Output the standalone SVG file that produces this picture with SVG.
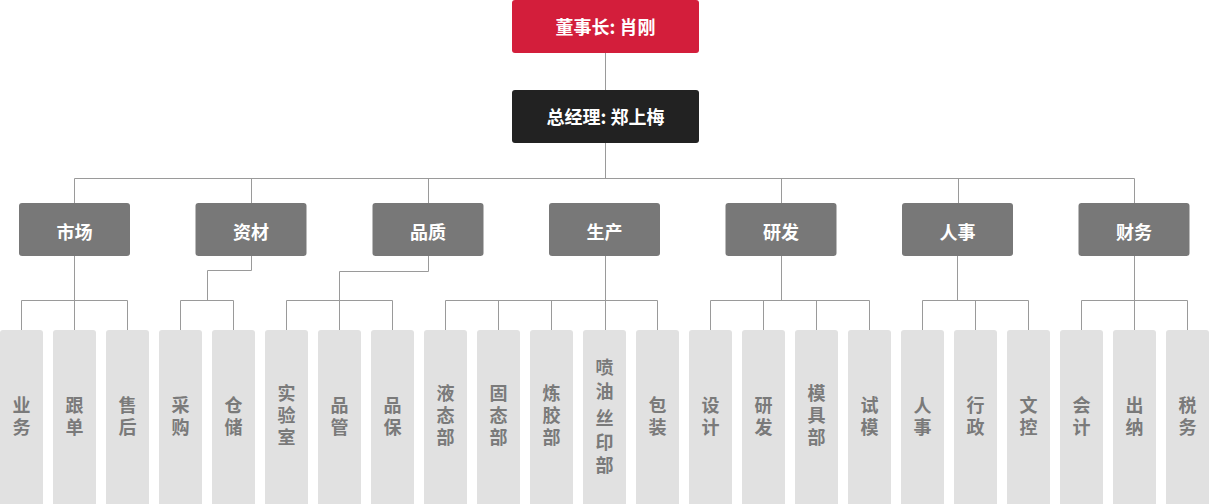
<svg xmlns="http://www.w3.org/2000/svg" width="1209" height="504" viewBox="0 0 1209 504">
<style>
.ln{stroke:#9a9a9a;stroke-width:1;fill:none}
.top{fill:#d31e3b}
.gm{fill:#222222}
.dp{fill:#787878}
.lf{fill:#e1e1e1}
.tw{fill:#ffffff;font-family:"Noto Sans CJK SC","Noto Sans",sans-serif;font-size:18px;font-weight:bold;text-anchor:middle}
.tl{fill:#7a7a7a;font-family:"Noto Sans CJK SC","Noto Sans",sans-serif;font-size:18px;font-weight:bold;text-anchor:middle}
</style>
<rect width="1209" height="504" fill="#ffffff"/>
<g id="connectors">
<path class="ln" d="M605.5 53V90M605.5 143V178.5M74.5 203V178.5H1134.5V203M251.5 178.5V203M428.5 178.5V203M781.5 178.5V203M958.5 178.5V203"/>
<path class="ln" d="M74.5 256V330M21.5 330V300.5H127.5V330"/>
<path class="ln" d="M251.5 256V270.5H207.5V300.5M180.5 330V300.5H233.5V330"/>
<path class="ln" d="M428.5 256V271.5H339.5V330M286.5 330V300.5H392.5V330"/>
<path class="ln" d="M605.5 256V330M445.5 330V300.5H657.5V330M498.5 300.5V330M551.5 300.5V330"/>
<path class="ln" d="M781.5 256V300.5M710.5 330V300.5H869.5V330M763.5 300.5V330M816.5 300.5V330"/>
<path class="ln" d="M957.5 256V300.5M922.5 330V300.5H1028.5V330M975.5 300.5V330"/>
<path class="ln" d="M1134.5 256V330M1081.5 330V300.5H1187.5V330"/>
</g>
<g id="chairman"><rect class="top" x="512" y="0" width="187" height="53" rx="3"/><text class="tw" x="605.5" y="34">董事长: 肖刚</text></g>
<g id="gm"><rect class="gm" x="512" y="90" width="187" height="53" rx="3"/><text class="tw" x="605.5" y="124">总经理: 郑上梅</text></g>
<g id="d-shichang"><rect class="dp" x="19" y="203" width="111" height="53" rx="3"/><text class="tw" x="74.5" y="239">市场</text></g>
<g id="d-zicai"><rect class="dp" x="195.5" y="203" width="111" height="53" rx="3"/><text class="tw" x="251" y="239">资材</text></g>
<g id="d-pinzhi"><rect class="dp" x="372.5" y="203" width="111" height="53" rx="3"/><text class="tw" x="428" y="239">品质</text></g>
<g id="d-shengchan"><rect class="dp" x="549" y="203" width="111" height="53" rx="3"/><text class="tw" x="604.5" y="239">生产</text></g>
<g id="d-yanfa"><rect class="dp" x="725.5" y="203" width="111" height="53" rx="3"/><text class="tw" x="781" y="239">研发</text></g>
<g id="d-renshi"><rect class="dp" x="902" y="203" width="111" height="53" rx="3"/><text class="tw" x="957.5" y="239">人事</text></g>
<g id="d-caiwu"><rect class="dp" x="1078.5" y="203" width="111" height="53" rx="3"/><text class="tw" x="1134" y="239">财务</text></g>
<g id="l0"><rect class="lf" x="0" y="330" width="43" height="180" rx="3"/><text class="tl" x="21.5" y="412">业</text><text class="tl" x="21.5" y="434">务</text></g>
<g id="l1"><rect class="lf" x="53" y="330" width="43" height="180" rx="3"/><text class="tl" x="74.5" y="412">跟</text><text class="tl" x="74.5" y="434">单</text></g>
<g id="l2"><rect class="lf" x="106" y="330" width="43" height="180" rx="3"/><text class="tl" x="127.5" y="412">售</text><text class="tl" x="127.5" y="434">后</text></g>
<g id="l3"><rect class="lf" x="159" y="330" width="43" height="180" rx="3"/><text class="tl" x="180.5" y="412">采</text><text class="tl" x="180.5" y="434">购</text></g>
<g id="l4"><rect class="lf" x="212" y="330" width="43" height="180" rx="3"/><text class="tl" x="233.5" y="412">仓</text><text class="tl" x="233.5" y="434">储</text></g>
<g id="l5"><rect class="lf" x="265" y="330" width="43" height="180" rx="3"/><text class="tl" x="286.5" y="400">实</text><text class="tl" x="286.5" y="422">验</text><text class="tl" x="286.5" y="444">室</text></g>
<g id="l6"><rect class="lf" x="318" y="330" width="43" height="180" rx="3"/><text class="tl" x="339.5" y="412">品</text><text class="tl" x="339.5" y="434">管</text></g>
<g id="l7"><rect class="lf" x="371" y="330" width="43" height="180" rx="3"/><text class="tl" x="392.5" y="412">品</text><text class="tl" x="392.5" y="434">保</text></g>
<g id="l8"><rect class="lf" x="424" y="330" width="43" height="180" rx="3"/><text class="tl" x="445.5" y="400">液</text><text class="tl" x="445.5" y="422">态</text><text class="tl" x="445.5" y="444">部</text></g>
<g id="l9"><rect class="lf" x="477" y="330" width="43" height="180" rx="3"/><text class="tl" x="498.5" y="400">固</text><text class="tl" x="498.5" y="422">态</text><text class="tl" x="498.5" y="444">部</text></g>
<g id="l10"><rect class="lf" x="530" y="330" width="43" height="180" rx="3"/><text class="tl" x="551.5" y="400">炼</text><text class="tl" x="551.5" y="422">胶</text><text class="tl" x="551.5" y="444">部</text></g>
<g id="l11"><rect class="lf" x="583" y="330" width="43" height="180" rx="3"/><text class="tl" x="604.5" y="374">喷</text><text class="tl" x="604.5" y="398">油</text><text class="tl" x="604.5" y="425">丝</text><text class="tl" x="604.5" y="449">印</text><text class="tl" x="604.5" y="472">部</text></g>
<g id="l12"><rect class="lf" x="636" y="330" width="43" height="180" rx="3"/><text class="tl" x="657.5" y="412">包</text><text class="tl" x="657.5" y="434">装</text></g>
<g id="l13"><rect class="lf" x="689" y="330" width="43" height="180" rx="3"/><text class="tl" x="710.5" y="412">设</text><text class="tl" x="710.5" y="434">计</text></g>
<g id="l14"><rect class="lf" x="742" y="330" width="43" height="180" rx="3"/><text class="tl" x="763.5" y="412">研</text><text class="tl" x="763.5" y="434">发</text></g>
<g id="l15"><rect class="lf" x="795" y="330" width="43" height="180" rx="3"/><text class="tl" x="816.5" y="400">模</text><text class="tl" x="816.5" y="422">具</text><text class="tl" x="816.5" y="444">部</text></g>
<g id="l16"><rect class="lf" x="848" y="330" width="43" height="180" rx="3"/><text class="tl" x="869.5" y="412">试</text><text class="tl" x="869.5" y="434">模</text></g>
<g id="l17"><rect class="lf" x="901" y="330" width="43" height="180" rx="3"/><text class="tl" x="922.5" y="412">人</text><text class="tl" x="922.5" y="434">事</text></g>
<g id="l18"><rect class="lf" x="954" y="330" width="43" height="180" rx="3"/><text class="tl" x="975.5" y="412">行</text><text class="tl" x="975.5" y="434">政</text></g>
<g id="l19"><rect class="lf" x="1007" y="330" width="43" height="180" rx="3"/><text class="tl" x="1028.5" y="412">文</text><text class="tl" x="1028.5" y="434">控</text></g>
<g id="l20"><rect class="lf" x="1060" y="330" width="43" height="180" rx="3"/><text class="tl" x="1081.5" y="412">会</text><text class="tl" x="1081.5" y="434">计</text></g>
<g id="l21"><rect class="lf" x="1113" y="330" width="43" height="180" rx="3"/><text class="tl" x="1134.5" y="412">出</text><text class="tl" x="1134.5" y="434">纳</text></g>
<g id="l22"><rect class="lf" x="1166" y="330" width="43" height="180" rx="3"/><text class="tl" x="1187.5" y="412">税</text><text class="tl" x="1187.5" y="434">务</text></g>
</svg>
